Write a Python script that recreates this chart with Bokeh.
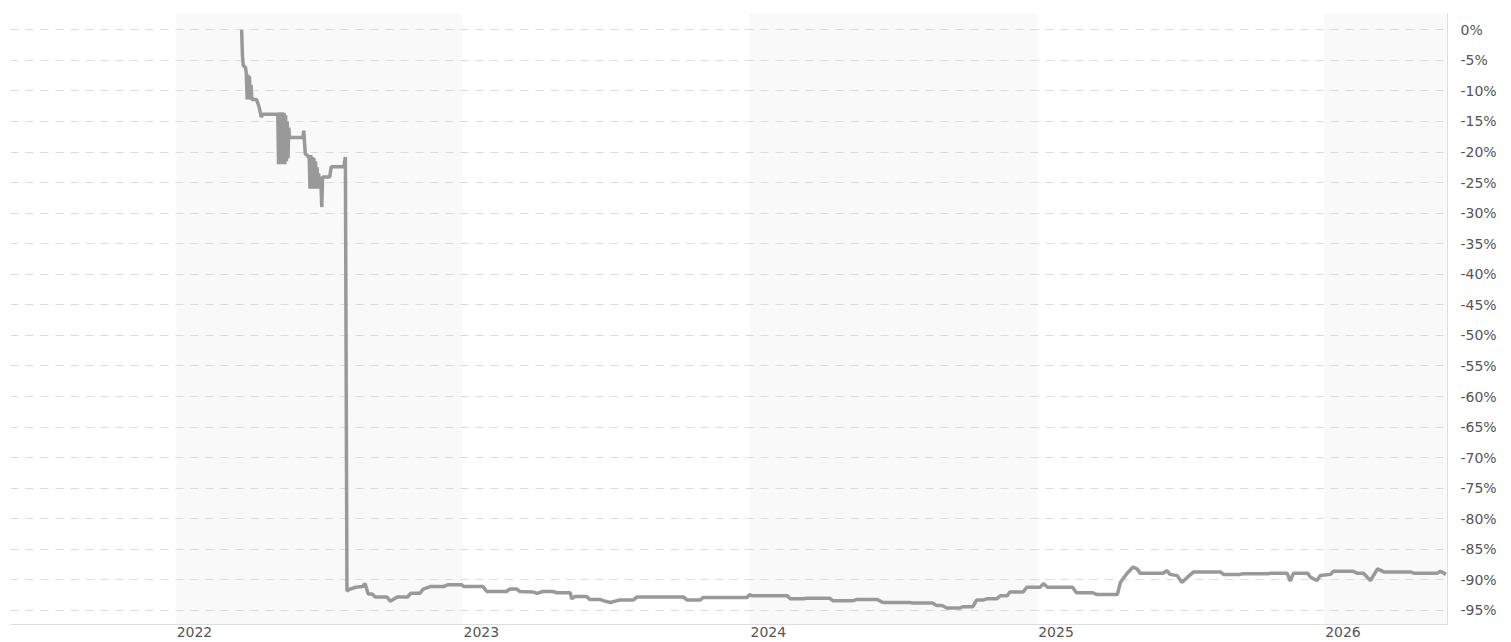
import pandas as pd
from bokeh.plotting import figure
from bokeh.models import (Range1d, FixedTicker, PrintfTickFormatter,
                          DatetimeTickFormatter, BoxAnnotation, ColumnDataSource)
from bokeh.embed import file_html
from bokeh.resources import INLINE

# ---------------- data ----------------
dates = [
    "2022-03-26", "2022-03-27", "2022-03-28", "2022-03-31", "2022-04-01", "2022-04-02",
    "2022-04-03", "2022-04-04", "2022-04-05", "2022-04-06", "2022-04-07", "2022-04-08",
    "2022-04-14", "2022-04-15", "2022-04-17", "2022-04-20", "2022-04-22", "2022-05-11",
    "2022-05-12", "2022-05-13", "2022-05-14", "2022-05-15", "2022-05-16", "2022-05-17",
    "2022-05-18", "2022-05-19", "2022-05-20", "2022-05-21", "2022-05-22", "2022-05-23",
    "2022-05-24", "2022-05-25", "2022-05-26", "2022-06-12", "2022-06-13", "2022-06-15",
    "2022-06-18", "2022-06-20", "2022-06-21", "2022-06-22", "2022-06-23", "2022-06-24",
    "2022-06-25", "2022-06-26", "2022-06-27", "2022-06-28", "2022-06-29", "2022-06-30",
    "2022-07-01", "2022-07-02", "2022-07-03", "2022-07-04", "2022-07-05", "2022-07-06",
    "2022-07-07", "2022-07-16", "2022-07-18", "2022-08-03", "2022-08-05", "2022-08-07",
    "2022-08-11", "2022-08-18", "2022-08-27", "2022-08-30", "2022-09-03", "2022-09-08",
    "2022-09-12", "2022-09-27", "2022-10-01", "2022-10-10", "2022-10-23", "2022-10-27",
    "2022-11-08", "2022-11-12", "2022-11-21", "2022-12-08", "2022-12-13", "2022-12-31",
    "2023-01-03", "2023-01-27", "2023-02-01", "2023-02-26", "2023-03-02", "2023-03-11",
    "2023-03-15", "2023-04-01", "2023-04-06", "2023-04-13", "2023-04-26", "2023-05-01",
    "2023-05-18", "2023-05-20", "2023-05-24", "2023-06-08", "2023-06-12", "2023-06-25",
    "2023-06-29", "2023-07-08", "2023-07-17", "2023-07-20", "2023-08-06", "2023-08-11",
    "2023-10-09", "2023-10-14", "2023-10-30", "2023-11-03", "2023-12-29", "2024-01-01",
    "2024-01-05", "2024-02-18", "2024-02-22", "2024-03-09", "2024-03-14", "2024-04-12",
    "2024-04-16", "2024-05-12", "2024-05-17", "2024-06-11", "2024-06-19", "2024-07-23",
    "2024-07-27", "2024-08-21", "2024-08-26", "2024-09-02", "2024-09-08", "2024-09-25",
    "2024-09-28", "2024-10-11", "2024-10-16", "2024-10-24", "2024-10-29", "2024-11-11",
    "2024-11-15", "2024-11-24", "2024-11-27", "2024-12-14", "2024-12-19", "2025-01-05",
    "2025-01-09", "2025-01-14", "2025-02-15", "2025-02-20", "2025-03-13", "2025-03-18",
    "2025-04-13", "2025-04-17", "2025-04-25", "2025-05-03", "2025-05-08", "2025-05-12",
    "2025-06-10", "2025-06-15", "2025-06-19", "2025-06-28", "2025-07-04", "2025-07-11",
    "2025-07-19", "2025-08-22", "2025-08-26", "2025-09-16", "2025-09-20", "2025-10-21",
    "2025-10-25", "2025-11-15", "2025-11-19", "2025-11-23", "2025-12-11", "2025-12-15",
    "2025-12-23", "2025-12-27", "2026-01-09", "2026-01-13", "2026-02-07", "2026-02-12",
    "2026-02-20", "2026-03-01", "2026-03-10", "2026-03-18", "2026-04-21", "2026-04-25",
    "2026-05-25", "2026-05-29", "2026-06-05",
]
drawdown = [
    0.0, -4.0, -5.8, -6.2, -7.2, -11.4,
    -7.3, -11.4, -7.6, -11.4, -9.0, -11.4,
    -11.4, -11.8, -12.5, -14.3, -13.8, -13.8,
    -22.0, -13.5, -22.0, -13.5, -22.0, -13.5,
    -22.0, -13.6, -22.0, -14.0, -21.5, -15.0,
    -21.0, -16.0, -17.6, -17.6, -16.5, -20.3,
    -20.6, -21.0, -26.0, -20.5, -26.0, -20.8,
    -26.0, -21.0, -26.0, -21.5, -26.0, -22.5,
    -26.0, -23.5, -26.0, -24.0, -25.5, -29.0,
    -24.1, -24.1, -22.4, -22.4, -20.8, -91.8,
    -91.5, -91.2, -91.1, -90.6, -92.3, -92.3,
    -92.8, -92.8, -93.5, -92.8, -92.8, -92.2,
    -92.2, -91.5, -91.1, -91.1, -90.8, -90.8,
    -91.1, -91.1, -91.9, -91.9, -91.5, -91.5,
    -91.9, -92.0, -92.2, -91.9, -91.9, -92.1,
    -92.1, -93.1, -92.7, -92.7, -93.2, -93.2,
    -93.4, -93.7, -93.4, -93.3, -93.3, -92.8,
    -92.8, -93.3, -93.3, -92.9, -92.9, -92.4,
    -92.6, -92.6, -93.1, -93.1, -93.0, -93.0,
    -93.4, -93.4, -93.2, -93.2, -93.7, -93.7,
    -93.8, -93.8, -94.2, -94.2, -94.6, -94.6,
    -94.4, -94.4, -93.3, -93.3, -93.1, -93.1,
    -92.6, -92.6, -92.0, -92.0, -91.2, -91.2,
    -90.6, -91.2, -91.2, -92.1, -92.1, -92.4,
    -92.4, -90.4, -89.0, -87.9, -88.2, -88.9,
    -88.9, -88.5, -89.1, -89.3, -90.4, -89.6,
    -88.7, -88.7, -89.1, -89.1, -89.0, -89.0,
    -88.9, -88.9, -90.2, -88.9, -88.9, -89.6,
    -90.1, -89.3, -89.1, -88.6, -88.6, -88.9,
    -88.9, -90.1, -88.2, -88.7, -88.7, -88.9,
    -88.9, -88.6, -89.1,
]
year_labels = ["2022", "2023", "2024", "2025", "2026"]
shaded_years = ["2022", "2024", "2026"]
y_ticks = [0, -5, -10, -15, -20, -25, -30, -35, -40, -45, -50,
           -55, -60, -65, -70, -75, -80, -85, -90, -95]
x_start, x_end = "2021-06-05", "2026-06-07"


def ms(d):
    return pd.Timestamp(d).value / 1e6


DAY = 86400000.0
label_offset_days = 24  # year labels start at the year boundary

source = ColumnDataSource(dict(x=pd.to_datetime(dates), y=drawdown))

p = figure(width=1511, height=642, output_backend="svg", toolbar_location=None,
           x_axis_type="datetime", y_axis_location="right",
           x_range=Range1d(ms(x_start), ms(x_end)), y_range=Range1d(-97.3, 2.67),
           min_border_left=10, min_border_top=13, min_border_right=64, min_border_bottom=18,
           background_fill_color="white", border_fill_color="white")
p.outline_line_color = None

for yr in shaded_years:
    left = ms(yr + "-01-01")
    right = min(ms(str(int(yr) + 1) + "-01-01"), ms(x_end))
    p.add_layout(BoxAnnotation(left=left, right=right, fill_color="#f9f9f9",
                               fill_alpha=1.0, line_color=None, level="image"))

p.line("x", "y", source=source, line_width=3.5, line_color="#999999")

# grid
p.xgrid.grid_line_color = None
p.ygrid.grid_line_color = "#dcdcdc"
p.ygrid.grid_line_dash = "8 7"
p.ygrid.grid_line_width = 1

# y axis (right)
yax = p.yaxis[0]
yax.ticker = FixedTicker(ticks=y_ticks)
yax.formatter = PrintfTickFormatter(format="%d%%")
yax.axis_line_color = "#dddddd"
yax.major_tick_line_color = None
yax.minor_tick_line_color = None
yax.major_tick_out = 0
yax.major_label_standoff = 13
yax.major_label_text_font = "DejaVu Sans"
yax.major_label_text_font_size = "14px"
yax.major_label_text_color = "#555555"

# x axis
xax = p.xaxis[0]
xax.ticker = FixedTicker(ticks=[ms(y + "-01-01") + label_offset_days * DAY for y in year_labels])
fmt = "%Y"
xax.formatter = DatetimeTickFormatter(years=fmt, months=fmt, days=fmt, hours=fmt,
                                      hourmin=fmt, minutes=fmt, minsec=fmt,
                                      seconds=fmt, milliseconds=fmt, microseconds=fmt)
xax.axis_line_color = "#dddddd"
xax.major_tick_line_color = None
xax.minor_tick_line_color = None
xax.major_tick_out = 0
xax.major_label_standoff = 2
xax.major_label_text_font = "DejaVu Sans"
xax.major_label_text_font_size = "14px"
xax.major_label_text_color = "#555555"

open("out.html", "w").write(file_html(p, INLINE))
